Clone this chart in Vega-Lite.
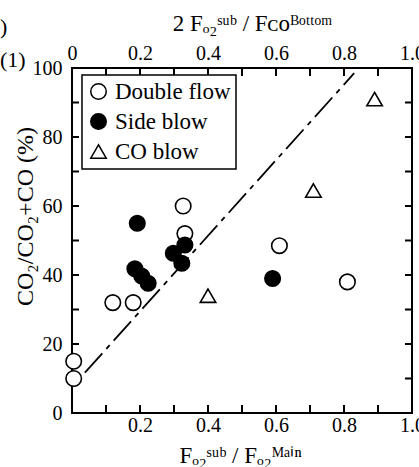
{
  "$schema": "https://vega.github.io/schema/vega-lite/v6.json",
  "width": 340,
  "height": 345,
  "autosize": {"type": "none"},
  "padding": {"left": 72, "top": 68, "right": 7, "bottom": 54},
  "background": "white",
  "config": {
    "font": "Liberation Serif",
    "view": {"stroke": "black", "strokeWidth": 2},
    "axis": {
      "grid": false,
      "domain": false,
      "ticks": false,
      "labelColor": "black",
      "labelFont": "Liberation Serif",
      "labelFontSize": 20,
      "labelOverlap": false,
      "labelBound": false,
      "labelFlush": false,
      "titleColor": "black",
      "titleFont": "Liberation Serif",
      "titleFontWeight": "normal",
      "titleFontSize": 23
    },
    "legend": {
      "orient": "none",
      "legendX": 10,
      "legendY": 7,
      "strokeColor": "black",
      "strokeWidth": 1.5,
      "fillColor": "white",
      "padding": 5,
      "rowPadding": 6,
      "labelFont": "Liberation Serif",
      "labelFontSize": 23,
      "labelColor": "black",
      "labelOffset": 5,
      "title": null
    }
  },
  "title": {
    "text": [")", "(1)"],
    "anchor": "start",
    "frame": "group",
    "orient": "top",
    "fontSize": 22,
    "fontWeight": "normal",
    "font": "Liberation Serif",
    "color": "black",
    "lineHeight": 33,
    "dx": -72,
    "dy": 64
  },
  "datasets": {
    "points": [
      {"series": "Double flow", "ratio": 0.005, "co2_pct": 15},
      {"series": "Double flow", "ratio": 0.005, "co2_pct": 10},
      {"series": "Double flow", "ratio": 0.12, "co2_pct": 32},
      {"series": "Double flow", "ratio": 0.18, "co2_pct": 32},
      {"series": "Double flow", "ratio": 0.327, "co2_pct": 60},
      {"series": "Double flow", "ratio": 0.332, "co2_pct": 52},
      {"series": "Double flow", "ratio": 0.61, "co2_pct": 48.5},
      {"series": "Double flow", "ratio": 0.81, "co2_pct": 38},
      {"series": "Side blow", "ratio": 0.192, "co2_pct": 55},
      {"series": "Side blow", "ratio": 0.185, "co2_pct": 41.8},
      {"series": "Side blow", "ratio": 0.205, "co2_pct": 39.7},
      {"series": "Side blow", "ratio": 0.224, "co2_pct": 37.6},
      {"series": "Side blow", "ratio": 0.298, "co2_pct": 46.3},
      {"series": "Side blow", "ratio": 0.332, "co2_pct": 48.7},
      {"series": "Side blow", "ratio": 0.323, "co2_pct": 43.4},
      {"series": "Side blow", "ratio": 0.59, "co2_pct": 39},
      {"series": "CO blow", "ratio": 0.40, "co2_pct": 34},
      {"series": "CO blow", "ratio": 0.71, "co2_pct": 64.5},
      {"series": "CO blow", "ratio": 0.89, "co2_pct": 91}
    ],
    "fit": [
      {"ratio": 0.038, "co2_pct": 11.7},
      {"ratio": 0.83, "co2_pct": 98.5}
    ],
    "xticks": [
      {"ratio": 0.1}, {"ratio": 0.2}, {"ratio": 0.3}, {"ratio": 0.4}, {"ratio": 0.5},
      {"ratio": 0.6}, {"ratio": 0.7}, {"ratio": 0.8}, {"ratio": 0.9}
    ],
    "yticks": [
      {"co2_pct": 10}, {"co2_pct": 20}, {"co2_pct": 30}, {"co2_pct": 40}, {"co2_pct": 50},
      {"co2_pct": 60}, {"co2_pct": 70}, {"co2_pct": 80}, {"co2_pct": 90}
    ]
  },
  "layer": [
    {
      "data": {"name": "fit"},
      "mark": {"type": "line", "stroke": "black", "strokeWidth": 1.8, "strokeDash": [26, 6, 5, 6]},
      "encoding": {
        "x": {
          "field": "ratio", "type": "quantitative",
          "scale": {"domain": [0, 1], "nice": false, "zero": false},
          "axis": {
            "orient": "bottom",
            "values": [0, 0.2, 0.4, 0.6, 0.8, 1.0],
            "labelExpr": "datum.value > 0.05 ? format(datum.value, '.1f') : ''",
            "labelPadding": 2,
            "title": "Fₒ₂ˢᵘᵇ / Fₒ₂ᴹᵃⁱⁿ",
            "titleX": 168,
            "titleY": 42,
            "titleBaseline": "middle",
            "titleAlign": "center"
          }
        },
        "y": {
          "field": "co2_pct", "type": "quantitative",
          "scale": {"domain": [0, 100], "nice": false},
          "axis": {
            "orient": "left",
            "values": [0, 20, 40, 60, 80, 100],
            "labelPadding": 10,
            "title": "CO₂/CO₂+CO (%)",
            "titleX": -47,
            "titleY": 148,
            "titleAngle": -90,
            "titleBaseline": "middle",
            "titleAlign": "center",
            "titleFontSize": 24
          }
        }
      }
    },
    {
      "data": {"name": "xticks"},
      "mark": {"type": "point", "shape": "stroke", "angle": 90, "filled": false, "stroke": "black", "strokeWidth": 2, "size": 64, "yOffset": -4, "opacity": 1},
      "encoding": {
        "x": {"field": "ratio", "type": "quantitative", "axis": null},
        "y": {"datum": 0, "type": "quantitative", "axis": null}
      }
    },
    {
      "data": {"name": "xticks"},
      "mark": {"type": "point", "shape": "stroke", "angle": 90, "filled": false, "stroke": "black", "strokeWidth": 2, "size": 64, "yOffset": 4, "opacity": 1},
      "encoding": {
        "x": {"field": "ratio", "type": "quantitative", "axis": null},
        "y": {"datum": 100, "type": "quantitative", "axis": null}
      }
    },
    {
      "data": {"name": "yticks"},
      "mark": {"type": "point", "shape": "stroke", "filled": false, "stroke": "black", "strokeWidth": 2, "size": 49, "xOffset": 3.5, "opacity": 1},
      "encoding": {
        "y": {"field": "co2_pct", "type": "quantitative", "axis": null},
        "x": {"datum": 0, "type": "quantitative", "axis": null}
      }
    },
    {
      "data": {"name": "yticks"},
      "mark": {"type": "point", "shape": "stroke", "filled": false, "stroke": "black", "strokeWidth": 2, "size": 49, "xOffset": -3.5, "opacity": 1},
      "encoding": {
        "y": {"field": "co2_pct", "type": "quantitative", "axis": null},
        "x": {"datum": 1, "type": "quantitative", "axis": null}
      }
    },
    {
      "data": {"name": "points"},
      "mark": {"type": "point", "filled": true, "stroke": "black", "strokeWidth": 1.6, "opacity": 1},
      "encoding": {
        "x": {
          "field": "ratio", "type": "quantitative",
          "scale": {"domain": [0, 1], "nice": false, "zero": false},
          "axis": {
            "orient": "top",
            "values": [0, 0.2, 0.4, 0.6, 0.8, 1.0],
            "labelExpr": "datum.value == 0 ? '0' : format(datum.value, '.1f')",
            "labelPadding": 5,
            "title": "2 Fₒ₂ˢᵘᵇ / Fᴄᴏᴮᵒᵗᵗᵒᵐ",
            "titleX": 180,
            "titleY": -45,
            "titleBaseline": "middle",
            "titleAlign": "center"
          }
        },
        "y": {
          "field": "co2_pct", "type": "quantitative",
          "scale": {"domain": [0, 100], "nice": false},
          "axis": null
        },
        "shape": {
          "field": "series", "type": "nominal",
          "scale": {"domain": ["Double flow", "Side blow", "CO blow"], "range": ["circle", "circle", "triangle-up"]},
          "legend": {"title": null, "encode": {"symbols": {"update": {"stroke": {"value": "black"}, "strokeWidth": {"value": 1.6}}}}}
        },
        "fill": {
          "field": "series", "type": "nominal",
          "scale": {"domain": ["Double flow", "Side blow", "CO blow"], "range": ["white", "black", "white"]},
          "legend": {"title": null, "encode": {"symbols": {"update": {"stroke": {"value": "black"}, "strokeWidth": {"value": 1.6}}}}}
        },
        "size": {
          "field": "series", "type": "nominal",
          "scale": {"domain": ["Double flow", "Side blow", "CO blow"], "range": [240, 240, 400]},
          "legend": {"title": null, "encode": {"symbols": {"update": {"stroke": {"value": "black"}, "strokeWidth": {"value": 1.6}}}}}
        }
      }
    }
  ],
  "resolve": {"axis": {"x": "independent", "y": "independent"}}
}
